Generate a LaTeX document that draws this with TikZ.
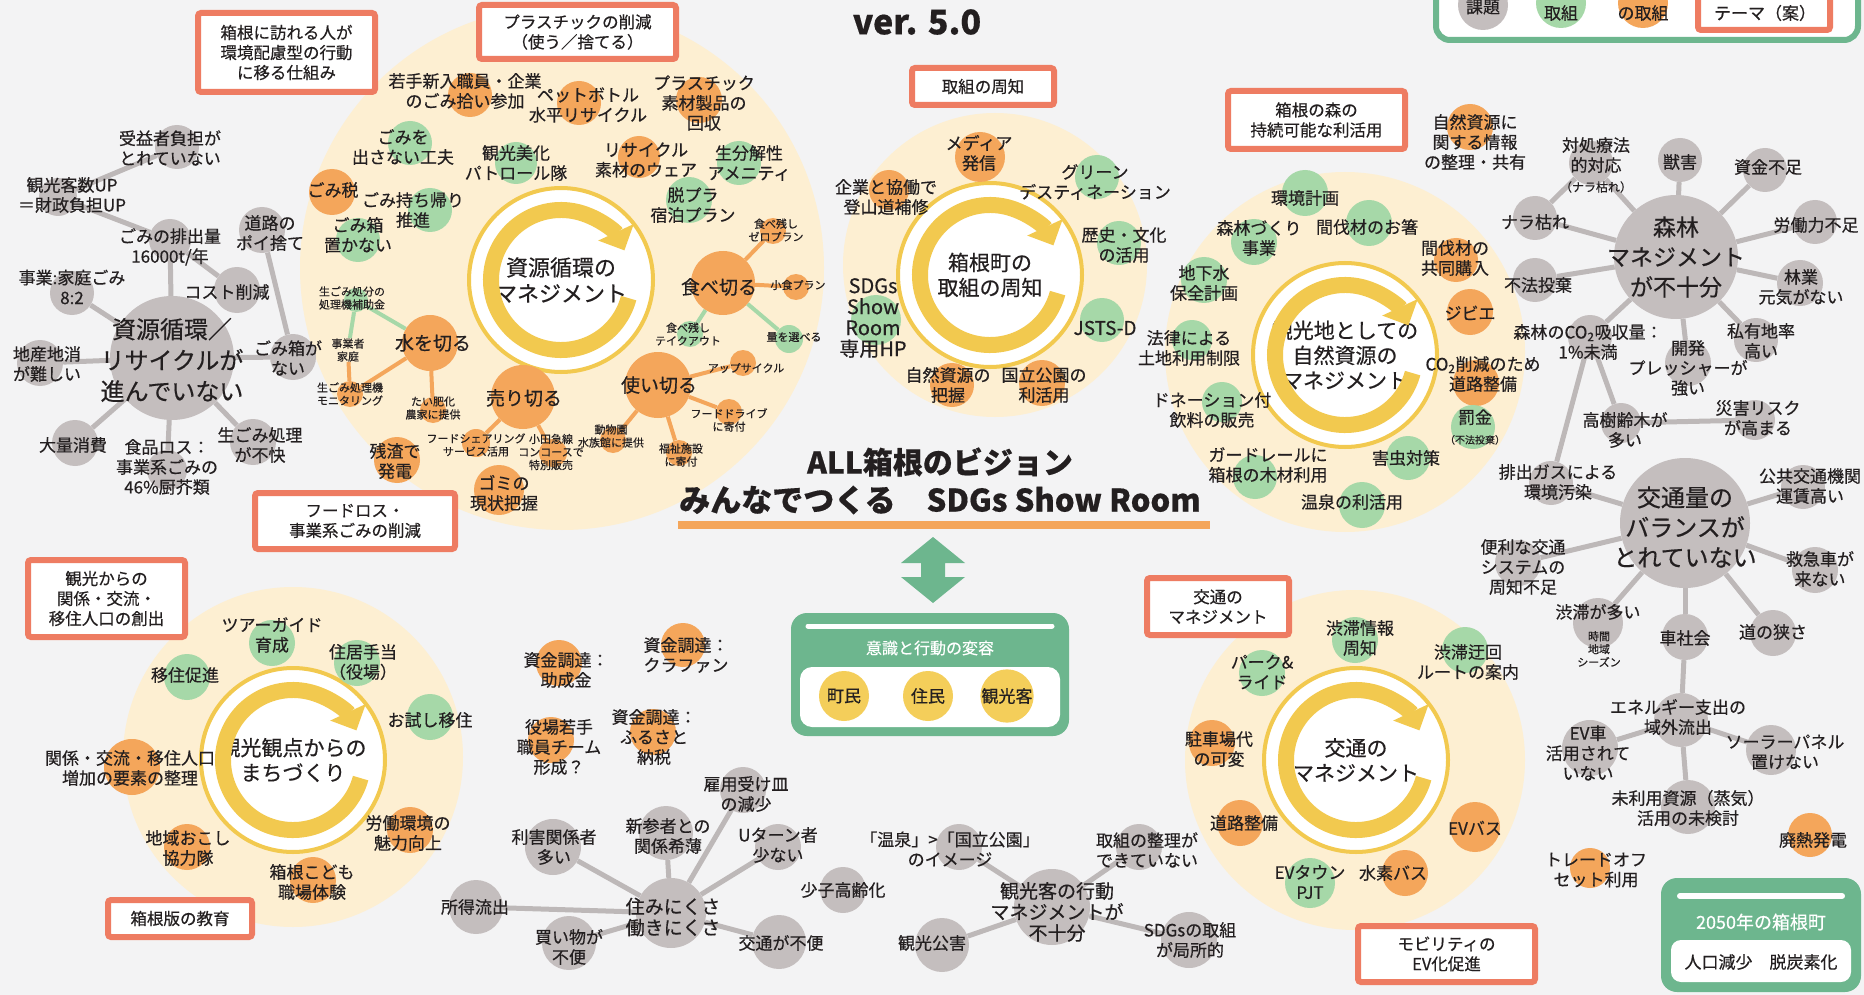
\documentclass[tikz,border=0pt]{standalone}
\usepackage{fontspec}
\setmainfont{Noto Sans CJK JP}[FakeBold=0.45]
\usetikzlibrary{arrows.meta}

\definecolor{bgc}{HTML}{F3F3F4}
\definecolor{zonec}{HTML}{FDEFD2}
\definecolor{kadai}{HTML}{C4BEBE}
\definecolor{torikumi}{HTML}{A6D8A8}
\definecolor{kongo}{HTML}{F4A65B}
\definecolor{ringc}{HTML}{F2C94F}
\definecolor{themec}{HTML}{EE7C62}
\definecolor{boxg}{HTML}{6DB68E}
\definecolor{ink}{HTML}{231F20}
\definecolor{linkg}{HTML}{BDB8B8}
\definecolor{citizen}{HTML}{F4CE5A}

\pgfdeclarelayer{zone}
\pgfdeclarelayer{link}
\pgfsetlayers{zone,link,main}

\begin{document}
\begin{tikzpicture}[x=1pt, y=-1pt,
    issue/.style={circle, fill=kadai, inner sep=0},
    act/.style={circle, fill=torikumi, inner sep=0},
    plan/.style={circle, fill=kongo, inner sep=0},
    sz/.style={minimum size=#1},
    zone/.style={circle, fill=zonec, inner sep=0},
    lbl/.style={align=center, text=ink, inner sep=0, font=\fontsize{17}{20}\selectfont},
    lsm/.style={align=center, text=ink, inner sep=0, font=\fontsize{11}{13}\selectfont},
    lmd/.style={align=center, text=ink, inner sep=0, font=\fontsize{19}{21}\selectfont},
    lbg/.style={align=center, text=ink, inner sep=0, font=\fontsize{24}{31}\selectfont},
    hub/.style={circle, fill=white, draw=ringc, line width=4, minimum size=184, inner sep=0,
                align=center, text=ink, font=\fontsize{21}{25}\selectfont},
    swirl/.style={draw=ringc, line width=16, -{Triangle[width=38pt,length=20pt]}},
    theme/.style={draw=themec, line width=6, fill=white, rounded corners=3, align=center,
                  text=ink, inner sep=0, font=\fontsize{16.5}{20}\selectfont},
    resid/.style={circle, fill=citizen, minimum size=50, inner sep=0, text=ink,
                  font=\fontsize{17}{20}\selectfont},
    gl/.style={draw=linkg, line width=5},
    ol/.style={draw=kongo, line width=4},
    nl/.style={draw=torikumi, line width=4}]

    \useasboundingbox (0,0) rectangle (1864,995);

    % 背景とエリア
    \begin{pgfonlayer}{zone}
        \fill[bgc] (0,0) rectangle (1864,995);
        \node[zone, sz=524] (zoneA) at (562,268) {};
        \node[zone, sz=304] (zoneB) at (995,265) {};
        \node[zone, sz=360] (zoneC) at (1345,352) {};
        \node[zone, sz=340] (zoneD) at (1355,760) {};
        \node[zone, sz=340] (zoneE) at (293,757) {};
    \end{pgfonlayer}

    % タイトル
    \node[text=ink, font=\fontsize{34}{36}\selectfont\bfseries] (ver) at (917,22) {ver. 5.0};

    % 凡例
    \draw[draw=boxg, line width=6, fill=white, rounded corners=14] (1436,-40) rectangle (1858,40);
    \node[issue, sz=50] (lgIssue) at (1483,5) {};
    \node[lbl] (lgIssue-t) at (1483,7) {課題};
    \node[act, sz=50] (lgAct) at (1561,3) {};
    \node[lbl] (lgAct-t) at (1561,13) {取組};
    \node[plan, sz=50] (lgPlan) at (1643,3) {};
    \node[lbl] (lgPlan-t) at (1643,13) {の取組};
    \node[theme, minimum width=132, minimum height=52] (lgTheme) at (1764,4) {};
    \node[lbl] (lgTheme-t) at (1765,13) {テーマ（案）};

    % テーマ（赤枠）
    \node[theme, minimum width=177, minimum height=79] (thKankyo) at (286.5,52.5) {箱根に訪れる人が\\環境配慮型の行動\\に移る仕組み};
    \node[theme, minimum width=197, minimum height=54] (thPura) at (577.5,32) {プラスチックの削減\\（使う／捨てる）};
    \node[theme, minimum width=200, minimum height=56] (thFood) at (355,521) {フードロス・\\事業系ごみの削減};
    \node[theme, minimum width=142, minimum height=37] (thShuchi) at (983,86.5) {取組の周知};
    \node[theme, minimum width=177, minimum height=58] (thMori) at (1316.5,120) {箱根の森の\\持続可能な利活用};
    \node[theme, minimum width=142, minimum height=57] (thKotsu) at (1218,606.5) {交通の\\マネジメント};
    \node[theme, minimum width=177, minimum height=56] (thEV) at (1446.5,954) {モビリティの\\EV化促進};
    \node[theme, minimum width=157, minimum height=77] (thIju) at (106.5,598.5) {観光からの\\関係・交流・\\移住人口の創出};
    \node[theme, minimum width=144, minimum height=37] (thKyoiku) at (180,918.5) {箱根版の教育};

    % 資源循環のマネジメント
    \node[hub, font=\fontsize{22}{26}\selectfont] (hubA) at (561,280) {資源循環の\\マネジメント};
    \draw[swirl] (hubA.center) ++(15:70) arc (15:335:70);

    \node[plan, sz=44] (wakate) at (470,95) {};
    \node[lbl] (wakate-t) at (465,91) {若手新入職員・企業\\のごみ拾い参加};
    \node[plan, sz=44] (pet) at (579,103) {};
    \node[lbl] (pet-t) at (588,105) {ペットボトル\\水平リサイクル};
    \node[plan, sz=46] (purakaishu) at (699,100) {};
    \node[lbl] (purakaishu-t) at (704,103) {プラスチック\\素材製品の\\回収};
    \node[act, sz=44] (dasanai) at (410,143) {};
    \node[lbl] (dasanai-t) at (403,147) {ごみを\\出さない工夫};
    \node[act, sz=42] (patrol) at (516,163) {};
    \node[lbl] (patrol-t) at (516,163) {観光美化\\パトロール隊};
    \node[plan, sz=42] (wear) at (639,157) {};
    \node[lbl] (wear-t) at (646,160) {リサイクル\\素材のウェア};
    \node[act, sz=44] (amenity) at (739,163) {};
    \node[lbl] (amenity-t) at (749,163) {生分解性\\アメニティ};
    \node[plan, sz=46] (gomizei) at (332,192) {};
    \node[lbl] (gomizei-t) at (333,190) {ごみ税};
    \node[act, sz=44] (mochikaeri) at (430,210) {};
    \node[lbl] (mochikaeri-t) at (413,210) {ごみ持ち帰り\\推進};
    \node[act, sz=46] (datsupura) at (689,200) {};
    \node[lbl] (datsupura-t) at (693,205) {脱プラ\\宿泊プラン};
    \node[act, sz=44] (okanai) at (358,240) {};
    \node[lbl] (okanai-t) at (358,235) {ごみ箱\\置かない};

    \node[plan, sz=64] (tabekiru) at (723,283) {};
    \node[lmd] (tabekiru-t) at (719,287) {食べ切る};
    \node[plan, sz=26] (zeroplan) at (773,231) {};
    \node[lsm] (zeroplan-t) at (776,230) {食べ残し\\ゼロプラン};
    \node[plan, sz=26] (shoshoku) at (796,287) {};
    \node[lsm] (shoshoku-t) at (798,285) {小食プラン};
    \node[act, sz=26] (takeout) at (690,334) {};
    \node[lsm] (takeout-t) at (688,334) {食べ残し\\テイクアウト};
    \node[act, sz=28] (ryou) at (789,339) {};
    \node[lsm] (ryou-t) at (794,337) {量を選べる};

    \node[plan, sz=56] (mizu) at (430,343) {};
    \node[lmd] (mizu-t) at (433,343) {水を切る};
    \node[act, sz=24] (hojokin) at (356,300) {};
    \node[lsm] (hojokin-t) at (352,298) {生ごみ処分の\\処理機補助金};
    \node[lsm] (jigyosha) at (348,350) {事業者\\家庭};
    \node[plan, sz=26] (monitor) at (350,394) {};
    \node[lsm] (monitor-t) at (350,394) {生ごみ処理機\\モニタリング};
    \node[plan, sz=26] (taihi) at (433,410) {};
    \node[lsm] (taihi-t) at (433,408) {たい肥化\\農家に提供};
    \node[plan, sz=46] (zansa) at (397,460) {};
    \node[lbl] (zansa-t) at (395,461) {残渣で\\発電};

    \node[plan, sz=64] (urikiru) at (523,397) {};
    \node[lmd] (urikiru-t) at (524,398) {売り切る};
    \node[plan, sz=28] (foodshare) at (476,443) {};
    \node[lsm] (foodshare-t) at (476,445) {フードシェアリング\\サービス活用};
    \node[plan, sz=28] (odakyu) at (553,453) {};
    \node[lsm] (odakyu-t) at (551,452) {小田急線\\コンコースで\\特別販売};
    \node[plan, sz=50] (genjou) at (499,490) {};
    \node[lbl] (genjou-t) at (504,493) {ゴミの\\現状把握};

    \node[plan, sz=66] (tsukai) at (658,385) {};
    \node[lmd] (tsukai-t) at (659,385) {使い切る};
    \node[plan, sz=26] (upcycle) at (743,363) {};
    \node[lsm] (upcycle-t) at (746,368) {アップサイクル};
    \node[plan, sz=26] (fooddrive) at (729,412) {};
    \node[lsm] (fooddrive-t) at (729,420) {フードドライブ\\に寄付};
    \node[plan, sz=26] (fukushi) at (679,453) {};
    \node[lsm] (fukushi-t) at (681,455) {福祉施設\\に寄付};
    \node[plan, sz=26] (doubutsu) at (613,440) {};
    \node[lsm] (doubutsu-t) at (611,436) {動物園\\水族館に提供};

    % 資源循環の課題
    \node[issue, sz=124] (shigen) at (172,358) {};
    \node[lbg] (shigen-t) at (172,360) {資源循環／\\リサイクルが\\進んでいない};
    \node[issue, sz=44] (jueki) at (177,147) {};
    \node[lbl] (jueki-t) at (170,148) {受益者負担が\\とれていない};
    \node[issue, sz=38] (zaisei) at (58,197) {};
    \node[lbl] (zaisei-t) at (72,195) {観光客数UP\\＝財政負担UP};
    \node[issue, sz=42] (haishutsu) at (170,240) {};
    \node[lbl] (haishutsu-t) at (170,247) {ごみの排出量\\16000t/年};
    \node[issue, sz=46] (poi) at (262,230) {};
    \node[lbl] (poi-t) at (270,233) {道路の\\ポイ捨て};
    \node[issue, sz=44] (katei) at (72,293) {};
    \node[lbl] (katei-t) at (72,287) {事業:家庭ごみ\\8:2};
    \node[issue, sz=46] (cost) at (237,290) {};
    \node[lbl] (cost-t) at (227,292) {コスト削減};
    \node[issue, sz=46] (chisan) at (40,363) {};
    \node[lbl] (chisan-t) at (47,364) {地産地消\\が難しい};
    \node[issue, sz=46] (gomibako) at (293,357) {};
    \node[lbl] (gomibako-t) at (288,358) {ごみ箱が\\ない};
    \node[issue, sz=46] (tairyo) at (75,443) {};
    \node[lbl] (tairyo-t) at (73,445) {大量消費};
    \node[issue, sz=40] (shokuhin) at (167,470) {};
    \node[lbl] (shokuhin-t) at (167,467) {食品ロス：\\事業系ごみの\\46\%厨芥類};
    \node[issue, sz=46] (namagomi) at (253,442) {};
    \node[lbl] (namagomi-t) at (260,445) {生ごみ処理\\が不快};

    % 箱根町の取組の周知
    \node[hub] (hubB) at (990,275) {箱根町の\\取組の周知};
    \draw[swirl] (hubB.center) ++(15:70) arc (15:335:70);
    \node[plan, sz=50] (media) at (980,157) {};
    \node[lbl] (media-t) at (979,153) {メディア\\発信};
    \node[act, sz=44] (green) at (1097,177) {};
    \node[lbl] (green-t) at (1095,182) {グリーン\\デスティネーション};
    \node[plan, sz=40] (tozan) at (889,190) {};
    \node[lbl] (tozan-t) at (886,197) {企業と協働で\\登山道補修};
    \node[act, sz=44] (rekishi) at (1119,243) {};
    \node[lbl] (rekishi-t) at (1124,245) {歴史・文化\\の活用};
    \node[act, sz=50] (sdgshp) at (876,320) {};
    \node[lbl, font=\fontsize{20}{21}\selectfont] (sdgshp-t) at (873,318) {SDGs\\Show\\Room\\専用HP};
    \node[act, sz=44] (jsts) at (1102,320) {};
    \node[lbl, font=\fontsize{19}{21}\selectfont] (jsts-t) at (1105,328) {JSTS-D};
    \node[plan, sz=44] (haaku) at (952,385) {};
    \node[lbl] (haaku-t) at (948,385) {自然資源の\\把握};
    \node[plan, sz=46] (kokuritsu) at (1042,383) {};
    \node[lbl] (kokuritsu-t) at (1044,385) {国立公園の\\利活用};

    % 観光地としての自然資源のマネジメント
    \node[hub] (hubC) at (1345,355) {観光地としての\\自然資源の\\マネジメント};
    \draw[swirl] (hubC.center) ++(15:70) arc (15:335:70);
    \node[plan, sz=46] (jouhou) at (1470,127) {};
    \node[lbl] (jouhou-t) at (1475,142) {自然資源に\\関する情報\\の整理・共有};
    \node[act, sz=46] (keikaku) at (1305,193) {};
    \node[lbl] (keikaku-t) at (1305,198) {環境計画};
    \node[act, sz=46] (shinrinzukuri) at (1254,242) {};
    \node[lbl] (shinrinzukuri-t) at (1259,238) {森林づくり\\事業};
    \node[act, sz=46] (ohashi) at (1369,223) {};
    \node[lbl] (ohashi-t) at (1367,227) {間伐材のお箸};
    \node[act, sz=46] (chikasui) at (1204,280) {};
    \node[lbl] (chikasui-t) at (1204,283) {地下水\\保全計画};
    \node[plan, sz=44] (kounyu) at (1456,260) {};
    \node[lbl] (kounyu-t) at (1455,258) {間伐材の\\共同購入};
    \node[plan, sz=46] (jibie) at (1470,312) {};
    \node[lbl] (jibie-t) at (1470,313) {ジビエ};
    \node[act, sz=40] (houritsu) at (1192,340) {};
    \node[lbl] (houritsu-t) at (1189,348) {法律による\\土地利用制限};
    \node[plan, sz=46] (co2road) at (1476,383) {};
    \node[lbl] (co2road-t) at (1483,374) {CO\textsubscript{2}削減のため\\道路整備};
    \node[act, sz=44] (bakkin) at (1473,427) {};
    \node[lbl] (bakkin-t) at (1475,427) {罰金\\{\fontsize{10}{12}\selectfont（不法投棄）}};
    \node[act, sz=40] (donation) at (1222,402) {};
    \node[lbl] (donation-t) at (1212,410) {ドネーション付\\飲料の販売};
    \node[act, sz=44] (gaichu) at (1408,458) {};
    \node[lbl] (gaichu-t) at (1406,458) {害虫対策};
    \node[act, sz=44] (guard) at (1255,477) {};
    \node[lbl] (guard-t) at (1268,465) {ガードレールに\\箱根の木材利用};
    \node[act, sz=46] (onsen) at (1362,505) {};
    \node[lbl] (onsen-t) at (1352,502) {温泉の利活用};

    % 森林の課題
    \node[issue, sz=124] (shinrin) at (1676,257) {};
    \node[lbg, font=\fontsize{23}{30}\selectfont] (shinrin-t) at (1676,257) {森林\\マネジメント\\が不十分};
    \node[issue, sz=44] (taisho) at (1591,163) {};
    \node[lbl] (taisho-t) at (1596,165) {対処療法\\的対応\\{\fontsize{12}{14}\selectfont（ナラ枯れ）}};
    \node[issue, sz=44] (juugai) at (1680,160) {};
    \node[lbl] (juugai-t) at (1680,162) {獣害};
    \node[issue, sz=44] (shikin) at (1765,170) {};
    \node[lbl] (shikin-t) at (1768,167) {資金不足};
    \node[issue, sz=44] (nara) at (1535,218) {};
    \node[lbl] (nara-t) at (1535,222) {ナラ枯れ};
    \node[issue, sz=44] (roudou) at (1815,222) {};
    \node[lbl] (roudou-t) at (1816,225) {労働力不足};
    \node[issue, sz=44] (fuhou) at (1535,280) {};
    \node[lbl] (fuhou-t) at (1538,285) {不法投棄};
    \node[issue, sz=46] (ringyou) at (1800,283) {};
    \node[lbl] (ringyou-t) at (1801,287) {林業\\元気がない};
    \node[issue, sz=44] (co2abs) at (1590,337) {};
    \node[lbl] (co2abs-t) at (1588,342) {森林のCO\textsubscript{2}吸収量：\\1\%未満};
    \node[issue, sz=46] (kaihatsu) at (1688,363) {};
    \node[lbl] (kaihatsu-t) at (1688,368) {開発\\プレッシャーが\\強い};
    \node[issue, sz=44] (shiyuu) at (1756,340) {};
    \node[lbl] (shiyuu-t) at (1761,341) {私有地率\\高い};
    \node[issue, sz=40] (kojurei) at (1621,423) {};
    \node[lbl] (kojurei-t) at (1625,430) {高樹齢木が\\多い};
    \node[issue, sz=40] (saigai) at (1755,420) {};
    \node[lbl] (saigai-t) at (1758,418) {災害リスク\\が高まる};
    \node[issue, sz=44] (haigas) at (1551,483) {};
    \node[lbl] (haigas-t) at (1558,482) {排出ガスによる\\環境汚染};

    % 交通量の課題
    \node[issue, sz=130] (kotsu) at (1685,523) {};
    \node[lbg, font=\fontsize{24}{30}\selectfont] (kotsu-t) at (1685,527) {交通量の\\バランスが\\とれていない};
    \node[issue, sz=44] (kokyo) at (1803,487) {};
    \node[lbl] (kokyo-t) at (1810,486) {公共交通機関\\運賃高い};
    \node[issue, sz=46] (benri) at (1518,563) {};
    \node[lbl] (benri-t) at (1523,567) {便利な交通\\システムの\\周知不足};
    \node[issue, sz=46] (kyukyu) at (1815,570) {};
    \node[lbl] (kyukyu-t) at (1820,569) {救急車が\\来ない};
    \node[issue, sz=50] (jutai) at (1598,623) {};
    \node[lbl] (jutai-t) at (1598,612) {渋滞が多い};
    \node[lsm] (jutai-s) at (1599,649) {時間\\地域\\シーズン};
    \node[issue, sz=46] (kuruma) at (1685,637) {};
    \node[lbl] (kuruma-t) at (1685,638) {車社会};
    \node[issue, sz=46] (michi) at (1773,633) {};
    \node[lbl] (michi-t) at (1773,632) {道の狭さ};

    % エネルギーの課題
    \node[issue, sz=54] (energy) at (1681,720) {};
    \node[lbl] (energy-t) at (1678,717) {エネルギー支出の\\域外流出};
    \node[issue, sz=56] (evcar) at (1590,748) {};
    \node[lbl] (evcar-t) at (1588,753) {EV車\\活用されて\\いない};
    \node[issue, sz=50] (solar) at (1771,750) {};
    \node[lbl] (solar-t) at (1785,752) {ソーラーパネル\\置けない};
    \node[issue, sz=54] (miriyou) at (1688,807) {};
    \node[lbl] (miriyou-t) at (1688,808) {未利用資源（蒸気）\\活用の未検討};
    \node[plan, sz=44] (hainetsu) at (1810,835) {};
    \node[lbl] (hainetsu-t) at (1813,840) {廃熱発電};
    \node[plan, sz=40] (tradeoff) at (1590,868) {};
    \node[lbl] (tradeoff-t) at (1596,870) {トレードオフ\\セット利用};

    % 交通のマネジメント
    \node[hub] (hubD) at (1356,760) {交通の\\マネジメント};
    \draw[swirl] (hubD.center) ++(15:70) arc (15:335:70);
    \node[act, sz=46] (jutaijoho) at (1355,640) {};
    \node[lbl] (jutaijoho-t) at (1360,638) {渋滞情報\\周知};
    \node[act, sz=46] (parkride) at (1262,673) {};
    \node[lbl] (parkride-t) at (1262,672) {パーク\&\\ライド};
    \node[act, sz=46] (ukai) at (1465,650) {};
    \node[lbl] (ukai-t) at (1468,662) {渋滞迂回\\ルートの案内};
    \node[plan, sz=46] (chusha) at (1212,743) {};
    \node[lbl] (chusha-t) at (1219,749) {駐車場代\\の可変};
    \node[plan, sz=46] (douro) at (1240,823) {};
    \node[lbl] (douro-t) at (1244,823) {道路整備};
    \node[plan, sz=50] (evbus) at (1475,827) {};
    \node[lbl] (evbus-t) at (1475,828) {EVバス};
    \node[act, sz=50] (evtown) at (1310,883) {};
    \node[lbl] (evtown-t) at (1310,882) {EVタウン\\PJT};
    \node[plan, sz=46] (suiso) at (1405,873) {};
    \node[lbl] (suiso-t) at (1393,873) {水素バス};

    % 観光観点からのまちづくり
    \node[hub] (hubE) at (293,760) {観光観点からの\\まちづくり};
    \draw[swirl] (hubE.center) ++(15:70) arc (15:335:70);
    \node[act, sz=46] (tour) at (272,643) {};
    \node[lbl] (tour-t) at (272,635) {ツアーガイド\\育成};
    \node[act, sz=46] (jukyo) at (357,663) {};
    \node[lbl] (jukyo-t) at (363,662) {住居手当\\（役場）};
    \node[act, sz=46] (iju) at (187,677) {};
    \node[lbl] (iju-t) at (185,675) {移住促進};
    \node[act, sz=46] (otameshi) at (430,717) {};
    \node[lbl] (otameshi-t) at (430,720) {お試し移住};
    \node[plan, sz=56] (youso) at (132,767) {};
    \node[lbl] (youso-t) at (130,768) {関係・交流・移住人口\\増加の要素の整理};
    \node[plan, sz=46] (chiiki) at (187,847) {};
    \node[lbl] (chiiki-t) at (188,848) {地域おこし\\協力隊};
    \node[plan, sz=46] (roudoukankyo) at (410,830) {};
    \node[lbl] (roudoukankyo-t) at (408,833) {労働環境の\\魅力向上};
    \node[plan, sz=46] (kodomo) at (313,880) {};
    \node[lbl] (kodomo-t) at (312,882) {箱根こども\\職場体験};

    % 資金調達
    \node[plan, sz=46] (josei) at (559,663) {};
    \node[lbl] (josei-t) at (566,670) {資金調達：\\助成金};
    \node[plan, sz=44] (crowd) at (683,645) {};
    \node[lbl] (crowd-t) at (686,655) {資金調達：\\クラファン};
    \node[plan, sz=46] (yakuba) at (551,740) {};
    \node[lbl] (yakuba-t) at (559,747) {役場若手\\職員チーム\\形成？};
    \node[plan, sz=46] (furusato) at (653,732) {};
    \node[lbl] (furusato-t) at (654,737) {資金調達：\\ふるさと\\納税};

    % 住みにくさ
    \node[issue, sz=70] (sumi) at (671,913) {};
    \node[lmd] (sumi-t) at (673,917) {住みにくさ\\働きにくさ};
    \node[issue, sz=46] (koyou) at (743,790) {};
    \node[lbl] (koyou-t) at (746,794) {雇用受け皿\\の減少};
    \node[issue, sz=54] (shinsan) at (666,833) {};
    \node[lbl] (shinsan-t) at (668,836) {新参者との\\関係希薄};
    \node[issue, sz=56] (rigai) at (553,847) {};
    \node[lbl] (rigai-t) at (554,847) {利害関係者\\多い};
    \node[issue, sz=46] (uturn) at (778,847) {};
    \node[lbl] (uturn-t) at (778,845) {Uターン者\\少ない};
    \node[issue, sz=46] (shoushi) at (843,890) {};
    \node[lbl] (shoushi-t) at (843,890) {少子高齢化};
    \node[issue, sz=54] (shotoku) at (476,907) {};
    \node[lbl] (shotoku-t) at (475,907) {所得流出};
    \node[issue, sz=54] (kaimono) at (569,943) {};
    \node[lbl] (kaimono-t) at (569,947) {買い物が\\不便};
    \node[issue, sz=54] (fuben) at (779,942) {};
    \node[lbl] (fuben-t) at (781,943) {交通が不便};

    % 観光客の行動
    \node[issue, sz=76] (koudou) at (1052,907) {};
    \node[lmd] (koudou-t) at (1057,912) {観光客の行動\\マネジメントが\\不十分};
    \node[issue, sz=46] (image) at (959,847) {};
    \node[lbl] (image-t) at (950,849) {「温泉」>「国立公園」\\のイメージ};
    \node[issue, sz=46] (seiri) at (1139,847) {};
    \node[lbl] (seiri-t) at (1147,850) {取組の整理が\\できていない};
    \node[issue, sz=54] (kougai) at (942,945) {};
    \node[lbl] (kougai-t) at (932,943) {観光公害};
    \node[issue, sz=56] (sdgslocal) at (1189,940) {};
    \node[lbl] (sdgslocal-t) at (1190,940) {SDGsの取組\\が局所的};

    % ビジョン
    \node[text=ink, font=\fontsize{30}{34}\selectfont\bfseries] (vision) at (940,462) {ALL箱根のビジョン};
    \node[text=ink, font=\fontsize{31}{34}\selectfont\bfseries] (motto) at (940,500) {みんなでつくる\quad SDGs Show Room};
    \draw[kongo, line width=8] (678,525) -- (1210,525);

    % 双方向の矢印
    \fill[boxg] (933,537) -- (965,563) -- (945,563) -- (945,577) -- (965,577) -- (933,603)
        -- (901,577) -- (921,577) -- (921,563) -- (901,563) -- cycle;

    % 意識と行動の変容
    \fill[boxg, rounded corners=16] (791,613) rectangle (1069,736);
    \draw[white, line width=5, line cap=round] (808,626) -- (1052,626);
    \node[lbl, text=white, font=\fontsize{16}{18}\selectfont] (henyou) at (930,648) {意識と行動の変容};
    \fill[white, rounded corners=12] (800,667) rectangle (1060,727);
    \node[resid] (chomin) at (844,696) {町民};
    \node[resid] (jumin) at (928,696) {住民};
    \node[resid] (kankokyaku) at (1007,696) {観光客};

    % 2050年の箱根町
    \fill[boxg, rounded corners=16] (1661,878) rectangle (1861,992);
    \draw[white, line width=6, line cap=round] (1680,896) -- (1842,896);
    \node[lbl, text=white, font=\fontsize{18}{20}\selectfont] (y2050) at (1761,922) {2050年の箱根町};
    \fill[white, rounded corners=10] (1671,940) rectangle (1851,982);
    \node[lbl] (gensho) at (1761,962) {人口減少\quad 脱炭素化};

    % つながり
    \begin{pgfonlayer}{link}
        \draw[gl] (zaisei) -- (jueki);
        \draw[gl] (zaisei) -- (haishutsu);
        \draw[gl] (haishutsu) -- (shigen);
        \draw[gl] (haishutsu) -- (cost);
        \draw[gl] (katei) -- (shigen);
        \draw[gl] (poi) -- (gomibako);
        \draw[gl] (chisan) -- (shigen);
        \draw[gl] (gomibako) -- (shigen);
        \draw[gl] (tairyo) -- (shigen);
        \draw[gl] (shokuhin) -- (shigen);
        \draw[gl] (namagomi) -- (shigen);

        \draw[ol] (tabekiru) -- (zeroplan);
        \draw[ol] (tabekiru) -- (shoshoku);
        \draw[nl] (tabekiru) -- (takeout);
        \draw[nl] (tabekiru) -- (ryou);
        \draw[nl] (mizu) -- (hojokin);
        \draw[nl] (hojokin) -- (jigyosha);
        \draw[ol] (jigyosha) -- (monitor);
        \draw[ol] (mizu) -- (monitor);
        \draw[ol] (mizu) -- (taihi);
        \draw[ol] (urikiru) -- (foodshare);
        \draw[ol] (urikiru) -- (odakyu);
        \draw[ol] (tsukai) -- (upcycle);
        \draw[ol] (tsukai) -- (fooddrive);
        \draw[ol] (tsukai) -- (fukushi);
        \draw[ol] (tsukai) -- (doubutsu);

        \foreach \n in {taisho, juugai, shikin, nara, roudou, fuhou, ringyou, co2abs, kaihatsu, shiyuu}
            \draw[gl] (shinrin) -- (\n);
        \draw[gl] (nara) -- (taisho);
        \draw[gl] (co2abs) -- (kojurei);
        \draw[gl] (co2abs) -- (haigas);
        \draw[gl] (kojurei) -- (saigai);

        \foreach \n in {kokyo, benri, kyukyu, jutai, kuruma, michi, haigas}
            \draw[gl] (kotsu) -- (\n);
        \draw[gl] (kuruma) -- (energy);
        \foreach \n in {evcar, solar, miriyou}
            \draw[gl] (energy) -- (\n);

        \foreach \n in {koyou, shinsan, rigai, uturn, shotoku, kaimono, fuben}
            \draw[gl] (sumi) -- (\n);
        \foreach \n in {image, seiri, kougai, sdgslocal}
            \draw[gl] (koudou) -- (\n);
    \end{pgfonlayer}
\end{tikzpicture}
\end{document}
